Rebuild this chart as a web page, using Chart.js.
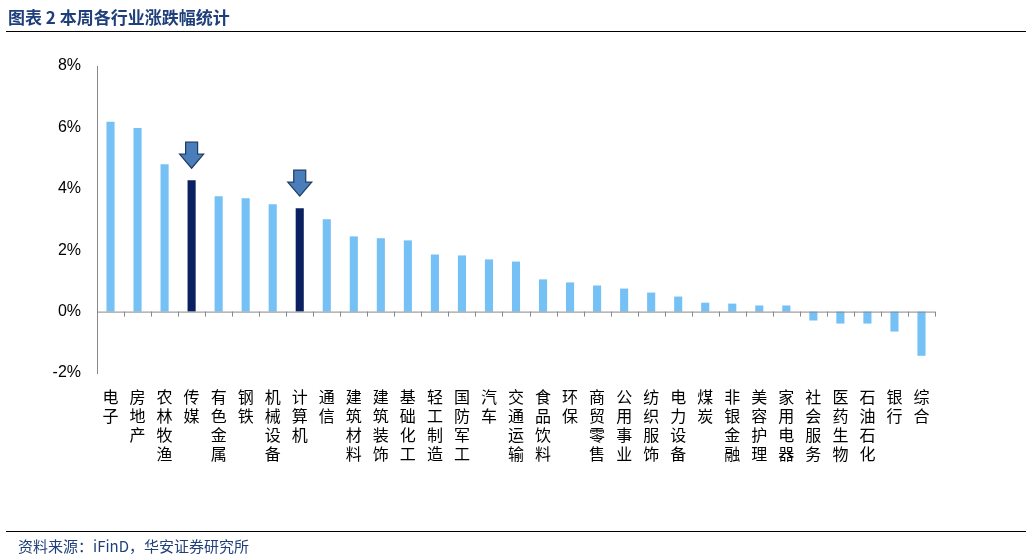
<!DOCTYPE html>
<html>
<head>
<meta charset="utf-8">
<script src="https://cdn.jsdelivr.net/npm/chart.js@4/dist/chart.umd.min.js"></script>
<style>
  body { margin: 0; background: #fff; font-family: "Noto Sans CJK SC", sans-serif; }
  #wrap { position: relative; width: 1032px; height: 559px; }
  #title { position: absolute; left: 8px; top: 4px; font-size: 17px; font-weight: bold; color: #1F3F7A; }
  #topline { position: absolute; left: 6px; right: 6px; top: 31px; border-top: 1px solid #000; }
  #botline { position: absolute; left: 6px; right: 6px; top: 531px; border-top: 1px solid #000; }
  #source { position: absolute; left: 18px; top: 535px; font-size: 15px; color: #1F3F7A; }
  canvas { position: absolute; left: 0; top: 0; }
</style>
</head>
<body>
<div id="wrap">
  <canvas id="c" width="1032" height="559"></canvas>
  <div id="title">图表 2 本周各行业涨跌幅统计</div>
  <div id="topline"></div>
  <div id="botline"></div>
  <div id="source">资料来源：iFinD，华安证券研究所</div>
</div>
<script>
// ---- data ----
const industries = ["电子","房地产","农林牧渔","传媒","有色金属","钢铁","机械设备","计算机","通信","建筑材料",
  "建筑装饰","基础化工","轻工制造","国防军工","汽车","交通运输","食品饮料","环保","商贸零售","公用事业",
  "纺织服饰","电力设备","煤炭","非银金融","美容护理","家用电器","社会服务","医药生物","石油石化","银行","综合"];
const weeklyChange = [6.18,5.98,4.80,4.28,3.76,3.69,3.50,3.37,3.01,2.45,
  2.39,2.32,1.86,1.83,1.70,1.63,1.05,0.95,0.85,0.75,
  0.62,0.49,0.29,0.26,0.20,0.20,-0.29,-0.39,-0.39,-0.65,-1.44];
const highlighted = ["传媒","计算机"];

const LIGHT = "#75C1F5", DARK = "#0B2060";

// arrows above highlighted bars + zero line with ticks
const decor = {
  id: "decor",
  afterDatasetsDraw(chart) {
    const { ctx, scales: { x, y } } = chart;
    const y0 = y.getPixelForValue(0);
    ctx.save();
    ctx.strokeStyle = "#888"; ctx.lineWidth = 1;
    ctx.beginPath();
    ctx.moveTo(x.left, y0 + 0.5); ctx.lineTo(x.right, y0 + 0.5);
    const step = (x.right - x.left) / industries.length;
    for (let i = 0; i <= industries.length; i++) {
      const px = Math.round(x.left + i * step) + 0.5;
      ctx.moveTo(px, y0); ctx.lineTo(px, y0 + 5);
    }
    ctx.stroke();
    highlighted.forEach(name => {
      const i = industries.indexOf(name);
      const cx = x.getPixelForValue(i);
      const top = y.getPixelForValue(weeklyChange[i]) - 38;
      ctx.beginPath();
      ctx.moveTo(cx - 6, top); ctx.lineTo(cx + 6, top);
      ctx.lineTo(cx + 6, top + 12); ctx.lineTo(cx + 12, top + 12);
      ctx.lineTo(cx, top + 26); ctx.lineTo(cx - 12, top + 12);
      ctx.lineTo(cx - 6, top + 12); ctx.closePath();
      ctx.fillStyle = "#4A7EBB"; ctx.fill();
      ctx.strokeStyle = "#1F3A63"; ctx.lineWidth = 1.2; ctx.stroke();
    });
    ctx.restore();
  }
};

new Chart(document.getElementById("c"), {
  type: "bar",
  data: {
    labels: industries.map(s => s.split("")),
    datasets: [{
      data: weeklyChange,
      backgroundColor: industries.map(n => highlighted.includes(n) ? DARK : LIGHT),
      barPercentage: 0.3,
      categoryPercentage: 1
    }]
  },
  options: {
    responsive: false,
    animation: false,
    layout: { padding: { top: 66, right: 97, left: 0, bottom: 0 } },
    plugins: { legend: { display: false }, tooltip: { enabled: false } },
    scales: {
      x: {
        grid: { display: false },
        border: { display: false },
        ticks: { color: "#000", font: { size: 16, family: "Noto Sans CJK SC" }, maxRotation: 0, autoSkip: false, padding: 6 },
        afterFit: s => { s.height = 186; }
      },
      y: {
        min: -2, max: 8,
        ticks: { stepSize: 2, color: "#000", font: { size: 16, family: "Liberation Sans" }, callback: v => v + "%", padding: 8 },
        grid: { display: false, drawTicks: true },
        border: { display: true, color: "#888" },
        afterFit: s => { s.width = 97; }
      }
    }
  },
  plugins: [decor]
});
</script>
</body>
</html>
